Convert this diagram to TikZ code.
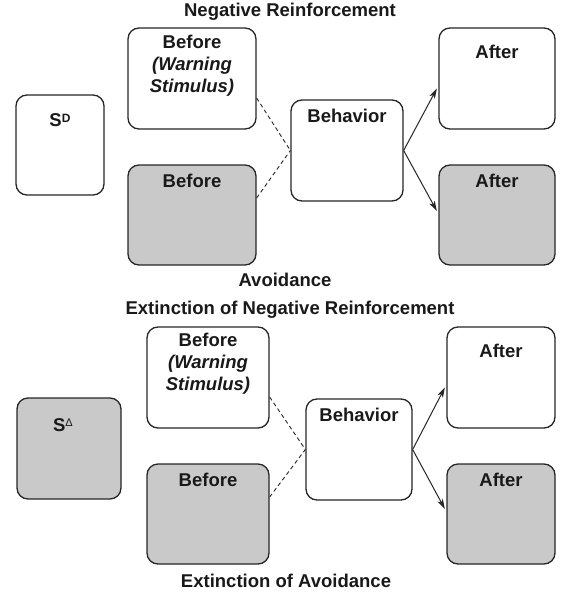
\documentclass[tikz,border=0pt]{standalone}
\usepackage{fontspec}
\setmainfont{Liberation Sans}
\usetikzlibrary{arrows.meta}
\definecolor{boxgray}{RGB}{201,201,201}
\definecolor{linegray}{RGB}{38,38,38}
\begin{document}
\begin{tikzpicture}[x=1pt,y=-1pt,
  wbox/.style={draw=linegray, line width=1.3pt, rounded corners=11pt, fill=white, inner sep=0pt},
  gbox/.style={wbox, fill=boxgray},
  lbl/.style={font=\bfseries\fontsize{18.5}{22}\selectfont, inner sep=0pt, text height=13.3pt, text depth=0pt, text=black!90},
  mlbl/.style={font=\bfseries\fontsize{18.5}{22}\selectfont, inner sep=0pt, align=center, anchor=north, text=black!90},
  title/.style={font=\bfseries\fontsize{18.5}{22}\selectfont, inner sep=0pt, text height=13.3pt, text depth=0pt, text=black!90},
  conn/.style={draw=linegray, line width=1pt, -{Stealth[length=10pt,width=6pt,inset=2.5pt]}},
  dashline/.style={draw=linegray, line width=0.9pt, dash pattern=on 4pt off 3pt}
]
\useasboundingbox (0,0) rectangle (577,599);

% ---------- top diagram ----------
\node[title] (t1) at (290,10) {Negative Reinforcement};
\node[title] (t2) at (285,280) {Avoidance};

\node[wbox, minimum width=88pt, minimum height=100pt] (sd1) at (60,145) {};
\node[wbox, minimum width=128pt, minimum height=101pt] (bw1) at (192,78.5) {};
\node[gbox, minimum width=128pt, minimum height=100pt] (bg1) at (192,215) {};
\node[wbox, minimum width=112pt, minimum height=101pt] (bh1) at (347,150.5) {};
\node[wbox, minimum width=116pt, minimum height=101pt] (aw1) at (497,78.5) {};
\node[gbox, minimum width=116pt, minimum height=100pt] (ag1) at (497,215) {};

\node[lbl] (sd1t) at ([yshift=-26pt]sd1.north) {S\raisebox{4.2pt}{\fontsize{12}{12}\selectfont D}};
\node[mlbl] (bw1t) at ([yshift=-8pt]bw1.north) {Before\\\itshape(Warning\\\itshape Stimulus)};
\node[lbl] (bg1t) at ([yshift=-16pt]bg1.north) {Before};
\node[lbl] (bh1t) at ([yshift=-17pt]bh1.north) {Behavior};
\node[lbl] (aw1t) at ([yshift=-25pt]aw1.north) {After};
\node[lbl] (ag1t) at ([yshift=-16pt]ag1.north) {After};

\draw[dashline] ([yshift=-19.5pt]bw1.east) -- (bh1.west);
\draw[dashline] ([yshift=17pt]bg1.east) -- (bh1.west);
\draw[conn] (bh1.east) -- ([xshift=-1.5pt,yshift=-10pt]aw1.west);
\draw[conn] (bh1.east) -- ([xshift=-1.5pt,yshift=4pt]ag1.west);

% ---------- bottom diagram ----------
\node[title] (t3) at (290,308) {Extinction of Negative Reinforcement};
\node[title] (t4) at (286,581) {Extinction of Avoidance};

\node[gbox, minimum width=104pt, minimum height=101pt] (sd2) at (69,448.5) {};
\node[wbox, minimum width=122pt, minimum height=101pt] (bw2) at (208,377.5) {};
\node[gbox, minimum width=122pt, minimum height=100pt] (bg2) at (208,514) {};
\node[wbox, minimum width=106pt, minimum height=101pt] (bh2) at (359,449.5) {};
\node[wbox, minimum width=108pt, minimum height=101pt] (aw2) at (501,377.5) {};
\node[gbox, minimum width=108pt, minimum height=100pt] (ag2) at (501,514) {};

\node[lbl] (sd2t) at ([xshift=-6pt,yshift=-27pt]sd2.north) {S\raisebox{5pt}{\fontsize{11}{11}\selectfont\mdseries Δ}};
\node[mlbl] (bw2t) at ([yshift=-7pt]bw2.north) {Before\\\itshape(Warning\\\itshape Stimulus)};
\node[lbl] (bg2t) at ([yshift=-16pt]bg2.north) {Before};
\node[lbl] (bh2t) at ([yshift=-16pt]bh2.north) {Behavior};
\node[lbl] (aw2t) at ([yshift=-24pt]aw2.north) {After};
\node[lbl] (ag2t) at ([yshift=-16pt]ag2.north) {After};

\draw[dashline] ([yshift=-19.5pt]bw2.east) -- (bh2.west);
\draw[dashline] ([yshift=17pt]bg2.east) -- (bh2.west);
\draw[conn] (bh2.east) -- ([xshift=-1.5pt,yshift=-10pt]aw2.west);
\draw[conn] (bh2.east) -- ([xshift=-1.5pt,yshift=5pt]ag2.west);
\end{tikzpicture}
\end{document}
